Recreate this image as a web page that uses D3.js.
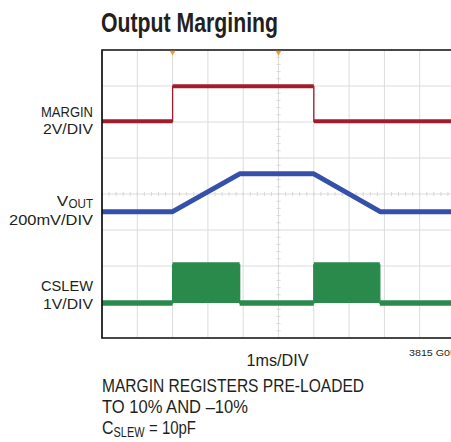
<!DOCTYPE html>
<html>
<head>
<meta charset="utf-8">
<script src="https://cdn.jsdelivr.net/npm/d3@7"></script>
<style>
  html, body { margin: 0; padding: 0; background: #fff; overflow: hidden; }
  svg { display: block; }
  text { font-family: "Liberation Sans Narrow", "Arial Narrow", "Liberation Sans", Arial, sans-serif; fill: #231f20; }
</style>
</head>
<body>
<svg id="chart" width="451" height="442"></svg>
<script>
// ---- data (time in ms = horizontal divisions, value in vertical divisions from bottom) ----
const marginTime = [0, 2, 2, 6, 6, 10];
const marginDiv  = [6.02, 6.02, 6.99, 6.99, 6.02, 6.02];

const voutTime = [0, 2, 3.9, 6, 7.88, 10];
const voutDiv  = [3.51, 3.51, 4.56, 4.56, 3.51, 3.51];

const cslewTime = [0, 2, 2, 3.9, 3.9, 6, 6, 7.87, 7.87, 10];
const cslewDiv  = [0.97, 0.97, 2.03, 2.03, 0.97, 0.97, 2.03, 2.03, 0.97, 0.97];

const triggerMarks = [2, 5];

const xDivs = d3.range(0, 11);
const yDivs = d3.range(0, 9);

const channelNames  = ["MARGIN", "V", "CSLEW"];
const channelSubs   = [null, "OUT", null];
const channelScales = ["2V/DIV", "200mV/DIV", "1V/DIV"];

const titleText = "Output Margining";
const timebaseText = "1ms/DIV";
const figureId = "3815 G05";
const noteLines = ["MARGIN REGISTERS PRE-LOADED", "TO 10% AND \u201310%"];
const capNote = ["C", "SLEW", "= 10pF"];

// ---- layout ----
const svg = d3.select("#chart");
const L = 102, R = 455, T = 50, B = 338;
const x = d3.scaleLinear().domain([0, 10]).range([L, R]);
const y = d3.scaleLinear().domain([0, 8]).range([B, T]);

const colors = { margin: "#a11d2b", vout: "#3550aa", cslew: "#2a8a4c", grid: "#dcdcdc" };

const mk = (t, v) => t.map((d, i) => [d, v[i]]);
const marginPts = mk(marginTime, marginDiv);
const voutPts = mk(voutTime, voutDiv);
const cslewPts = mk(cslewTime, cslewDiv);

const line = d3.line().x(d => x(d[0])).y(d => y(d[1]));

// grid
const g = svg.append("g");
g.selectAll(".vg").data(xDivs).join("line")
  .attr("x1", d => x(d)).attr("x2", d => x(d)).attr("y1", T).attr("y2", B)
  .attr("stroke", colors.grid).attr("stroke-width", 1);
g.selectAll(".hg").data(yDivs).join("line")
  .attr("y1", d => y(d)).attr("y2", d => y(d)).attr("x1", L).attr("x2", R)
  .attr("stroke", colors.grid).attr("stroke-width", 1);

// minor ticks on centre lines
const minorX = d3.range(0, 10.001, 0.2);
const minorY = d3.range(0, 8.001, 0.2);
g.selectAll(".mx").data(minorX).join("line")
  .attr("x1", d => x(d)).attr("x2", d => x(d))
  .attr("y1", y(4) - 2).attr("y2", y(4) + 2)
  .attr("stroke", "#d8d8d8").attr("stroke-width", 1);
g.selectAll(".my").data(minorY).join("line")
  .attr("y1", d => y(d)).attr("y2", d => y(d))
  .attr("x1", x(5) - 2).attr("x2", x(5) + 2)
  .attr("stroke", "#d8d8d8").attr("stroke-width", 1);

// helper: thick horizontal segments, thin edges
function drawStep(pts, color, thick) {
  svg.append("path").datum(pts).attr("d", line)
    .attr("fill", "none").attr("stroke", color).attr("stroke-width", 1.3);
  const segs = d3.pairs(pts).filter(([a, b]) => a[1] === b[1]);
  svg.selectAll(null).data(segs).join("path")
    .attr("d", d => line(d))
    .attr("fill", "none").attr("stroke", color).attr("stroke-width", thick)
    .attr("stroke-linecap", "butt");
}

// MARGIN
drawStep(marginPts, colors.margin, 4);

// VOUT
svg.append("path").datum(voutPts).attr("d", line)
  .attr("fill", "none").attr("stroke", colors.vout).attr("stroke-width", 5)
  .attr("stroke-linejoin", "round");

// CSLEW (pulses filled)
const base = cslewDiv[0];
svg.append("path").datum(cslewPts)
  .attr("d", d3.area().x(d => x(d[0])).y0(y(base)).y1(d => y(d[1])))
  .attr("fill", colors.cslew);
drawStep(cslewPts, colors.cslew, 5.5);

// frame
svg.append("path")
  .attr("d", `M${R},${T}H${L}V${B}H${R}`)
  .attr("fill", "none").attr("stroke", "#111").attr("stroke-width", 1.7);

// trigger markers
svg.selectAll(".tm").data(triggerMarks).join("path")
  .attr("d", d3.symbol(d3.symbolTriangle, 14))
  .attr("transform", d => `translate(${x(d)},${T + 2.5}) rotate(180)`)
  .attr("fill", "#f29a36");

// helper: place a text squeezed to a measured width
function txt(s, px, py, size, w, anchor, weight) {
  const t = svg.append("text").attr("x", px).attr("y", py)
    .attr("font-size", size).text(s);
  if (anchor) t.attr("text-anchor", anchor);
  if (weight) t.attr("font-weight", weight);
  if (w) t.attr("textLength", w).attr("lengthAdjust", "spacingAndGlyphs");
  return t;
}

// title
txt(titleText, L - 1, 32, 27, 177, null, "bold");

// channel labels
const lblY = [[117, 134], [206, 224.5], [291, 308.5]];
const nameW = [52, 11.5, 52];
const scaleW = [50, 84, 50];
channelNames.forEach((name, i) => {
  if (channelSubs[i]) {
    txt(name, 56.7, lblY[i][0], 15.5, nameW[i]);
    txt(channelSubs[i], 93, lblY[i][0] + 1.5, 12.5, 24.5, "end");
  } else {
    txt(name, 93, lblY[i][0], 15.5, nameW[i], "end");
  }
  txt(channelScales[i], 93, lblY[i][1], 15.5, scaleW[i], "end");
});

// bottom texts
txt(timebaseText, (L + R) / 2 - 1, 366, 16.5, 62, "middle");
txt(figureId, 409, 356, 9.5, 47);
const noteW = [262, 146];
noteLines.forEach((s, i) => txt(s, L, 392 + i * 21, 18.5, noteW[i]));
txt(capNote[0], L, 434, 18.5, 11.5);
txt(capNote[1], 113.5, 436.5, 14, 31);
txt(capNote[2], 149, 434, 18.5, 47);
</script>
</body>
</html>
